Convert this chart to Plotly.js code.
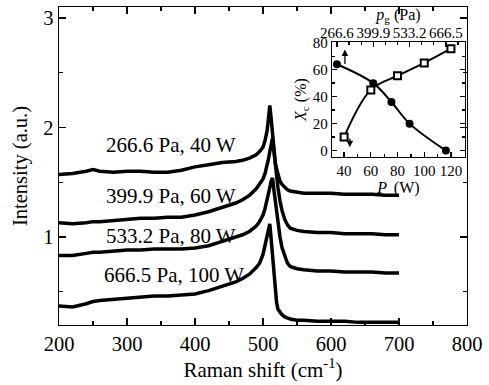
<!DOCTYPE html>
<html>
<head>
<meta charset="utf-8">
<script src="https://cdn.plot.ly/plotly-3.0.1.min.js"></script>
<style>html,body{margin:0;padding:0;background:#fff;}#chart{width:489px;height:385px;}</style>
</head>
<body>
<div id="chart"></div>
<script>
// Raman shift grid (cm-1)
var ramanShift = [200,220,240,250,260,280,300,320,340,360,380,400,420,440,460,470,480,490,495,500,503,506,508,510,512,514,516,518,520,522,525,528,532,536,540,550,560,580,600,620,640,660,680,700];

// Spectra (a.u.)
var spec266 = [1.57,1.58,1.60,1.615,1.60,1.59,1.60,1.60,1.59,1.59,1.61,1.64,1.66,1.68,1.69,1.70,1.72,1.75,1.78,1.82,1.88,1.97,2.08,2.20,2.08,1.92,1.78,1.68,1.62,1.57,1.51,1.48,1.45,1.43,1.42,1.41,1.40,1.40,1.40,1.39,1.39,1.39,1.38,1.38];
var spec399 = [1.13,1.12,1.13,1.14,1.14,1.15,1.16,1.17,1.17,1.18,1.18,1.20,1.23,1.27,1.31,1.34,1.38,1.44,1.48,1.53,1.58,1.65,1.71,1.78,1.86,1.90,1.79,1.66,1.55,1.45,1.33,1.24,1.16,1.11,1.08,1.06,1.05,1.04,1.04,1.03,1.03,1.03,1.02,1.02];
var spec533 = [0.83,0.83,0.85,0.86,0.86,0.87,0.88,0.88,0.89,0.89,0.89,0.90,0.92,0.96,1.00,1.02,1.05,1.10,1.14,1.20,1.26,1.33,1.39,1.45,1.51,1.54,1.43,1.32,1.22,1.12,1.00,0.90,0.82,0.76,0.73,0.71,0.70,0.69,0.69,0.68,0.68,0.68,0.67,0.67];
var spec666 = [0.37,0.36,0.39,0.41,0.42,0.43,0.44,0.45,0.46,0.46,0.47,0.48,0.51,0.55,0.59,0.62,0.66,0.72,0.76,0.84,0.92,1.02,1.08,1.12,0.98,0.82,0.66,0.52,0.40,0.34,0.31,0.29,0.27,0.26,0.25,0.24,0.24,0.23,0.23,0.23,0.22,0.22,0.22,0.22];

var specLabels = ["266.6 Pa, 40 W","399.9 Pa, 60 W","533.2 Pa, 80 W","666.5 Pa, 100 W"];
var specLabelX = [266, 266, 266, 263];
var specLabelY = [1.84, 1.375, 1.01, 0.655];

// Inset: crystalline fraction
var powerW = [40, 60, 80, 100, 120];          // P (W), squares
var xcVsPower = [10, 45, 55.5, 65, 75.5];
var pressurePa = [266.6, 399.9, 466.6, 533.2, 666.5]; // p_g (Pa), circles
var xcVsPressure = [64, 50, 36, 20, 0];
var pgTickVals = [266.6, 399.9, 533.2, 666.5];
var pgTickText = ["266.6", "399.9", "533.2", "666.5"];

var FONT = "Liberation Serif";
var specLine = {color: "#000", width: 3.5};

var traces = [spec266, spec399, spec533, spec666].map(function (ys) {
  return {x: ramanShift, y: ys, type: "scatter", mode: "lines", line: specLine, xaxis: "x", yaxis: "y", hoverinfo: "skip"};
});
traces.push({
  x: powerW, y: xcVsPower, type: "scatter", mode: "lines+markers",
  xaxis: "x2", yaxis: "y2",
  line: {color: "#000", width: 2, shape: "spline"},
  marker: {symbol: "square", size: 7, color: "#fff", line: {color: "#000", width: 2}}
});
traces.push({
  x: pressurePa, y: xcVsPressure, type: "scatter", mode: "lines+markers",
  xaxis: "x3", yaxis: "y2",
  line: {color: "#000", width: 2, shape: "spline"},
  marker: {symbol: "circle", size: 8, color: "#000"}
});

var annotations = specLabels.map(function (t, i) {
  return {text: t, x: specLabelX[i], y: specLabelY[i], xref: "x", yref: "y", xanchor: "left", yanchor: "middle",
          showarrow: false, font: {family: FONT, size: 21, color: "#000"}};
});
annotations.push({text: "", xref: "x3", yref: "y2", axref: "x3", ayref: "y2", x: 296, y: 75, ax: 296, ay: 63,
                  showarrow: true, arrowhead: 2, arrowsize: 1, arrowwidth: 1.3, arrowcolor: "#000"});
annotations.push({text: "", xref: "x2", yref: "y2", axref: "x2", ayref: "y2", x: 44.3, y: 2.5, ax: 44.3, ay: 10,
                  showarrow: true, arrowhead: 2, arrowsize: 1, arrowwidth: 1.3, arrowcolor: "#000"});

var axBase = {showgrid: false, zeroline: false, showline: true, linecolor: "#000", linewidth: 1.3,
              ticks: "inside", tickcolor: "#000", tickwidth: 1.3};

var layout = {
  width: 489, height: 385,
  margin: {l: 59, r: 22, t: 7, b: 60},
  paper_bgcolor: "#fff", plot_bgcolor: "rgba(0,0,0,0)",
  showlegend: false,
  font: {family: FONT, color: "#000"},
  xaxis: Object.assign({}, axBase, {
    range: [200, 800], dtick: 100, tick0: 0, ticklen: 7, mirror: "ticks",
    minor: {dtick: 50, ticklen: 4, ticks: "inside", tickcolor: "#000", tickwidth: 1.3},
    tickfont: {family: FONT, size: 20.5, color: "#000"},
    title: {text: "Raman shift (cm<sup>-1</sup>)", font: {family: FONT, size: 21, color: "#000"}, standoff: 2}
  }),
  yaxis: Object.assign({}, axBase, {
    range: [0.196, 3.10], dtick: 1, tick0: 0, ticklen: 7, mirror: "ticks",
    minor: {dtick: 0.5, ticklen: 4, ticks: "inside", tickcolor: "#000", tickwidth: 1.3},
    tickfont: {family: FONT, size: 20.5, color: "#000"},
    title: {text: "Intensity (a.u.)", font: {family: FONT, size: 20.5, color: "#000"}, standoff: 10}
  }),
  xaxis2: Object.assign({}, axBase, {
    domain: [0.669, 0.995], anchor: "y2", range: [30.9, 130.5], dtick: 20, tick0: 0, ticklen: 5, mirror: true,
    minor: {dtick: 10, ticklen: 3, ticks: "inside", tickcolor: "#000", tickwidth: 1.3},
    tickfont: {family: FONT, size: 15, color: "#000"},
    title: {text: "<i>P</i><sub> </sub> (W)", font: {family: FONT, size: 16, color: "#000"}, standoff: 0}
  }),
  xaxis3: Object.assign({}, axBase, {
    overlaying: "x2", anchor: "y2", side: "top", showline: false,
    range: [248.3, 736.5], tickmode: "array", tickvals: pgTickVals, ticktext: pgTickText, ticklen: 5,
    minor: {tick0: 266.6, dtick: 44.43, ticklen: 3, ticks: "inside", tickcolor: "#000", tickwidth: 1.3},
    tickfont: {family: FONT, size: 15, color: "#000"},
    title: {text: "<i>p</i><sub>g</sub> (Pa)", font: {family: FONT, size: 16, color: "#000"}, standoff: 0}
  }),
  yaxis2: Object.assign({}, axBase, {
    domain: [0.528, 0.890], anchor: "x2", range: [-4.8, 80.5], dtick: 20, tick0: 0, ticklen: 5, mirror: "ticks",
    minor: {dtick: 10, ticklen: 3, ticks: "inside", tickcolor: "#000", tickwidth: 1.3},
    tickfont: {family: FONT, size: 15, color: "#000"},
    title: {text: "<i>X</i><sub>c</sub> (%)", font: {family: FONT, size: 16, color: "#000"}, standoff: 2}
  }),
  annotations: annotations
};

Plotly.newPlot("chart", traces, layout, {displayModeBar: false, staticPlot: true});
</script>
</body>
</html>
